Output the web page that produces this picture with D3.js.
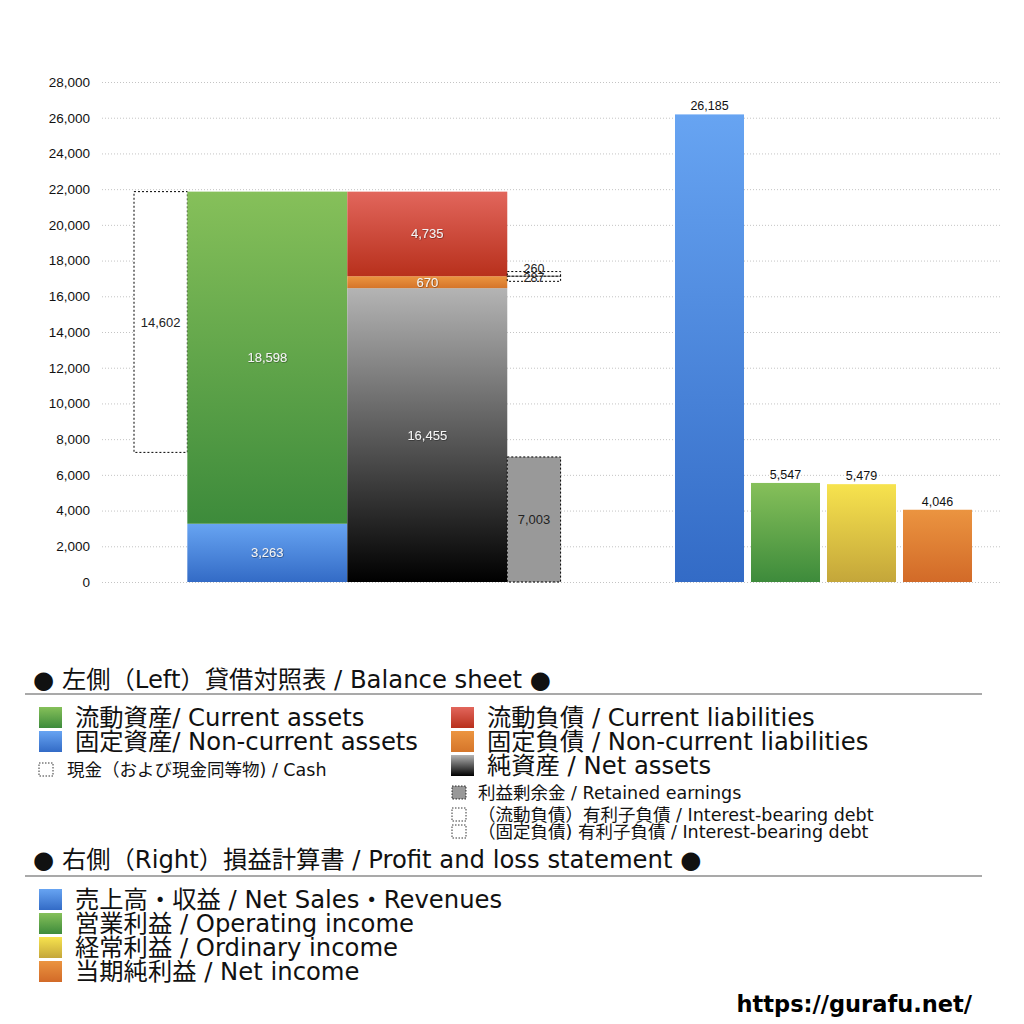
<!DOCTYPE html>
<html><head><meta charset="utf-8">
<script src="https://cdn.jsdelivr.net/npm/d3@7"></script>
<style>
body{margin:0;background:#fff;}
svg{display:block;}
</style></head>
<body>
<svg id="c" width="1024" height="1024"></svg>
<script>
// ---- data ----
const yTicks = [0,2000,4000,6000,8000,10000,12000,14000,16000,18000,20000,22000,24000,26000,28000];
const assetNames = ["固定資産","流動資産"];
const assetValues = [3263, 18598];
const liabNames = ["純資産","固定負債","流動負債"];
const liabValues = [16455, 670, 4735];
const cashValue = 14602;
const retainedValue = 7003;
const debtNames = ["(流動負債)有利子負債","(固定負債)有利子負債"];
const debtValues = [260, 287];
const plNames = ["売上高","営業利益","経常利益","当期純利益"];
const plValues = [26185, 5547, 5479, 4046];

const svg = d3.select("#c");
const defs = svg.append("defs");
function grad(id, c1, c2){
  const g = defs.append("linearGradient").attr("id", id).attr("x1",0).attr("y1",0).attr("x2",0).attr("y2",1);
  g.append("stop").attr("offset","0%").attr("stop-color",c1);
  g.append("stop").attr("offset","100%").attr("stop-color",c2);
}
grad("gGreen","#86c05a","#3d8b3b");
grad("gBlue","#67a4f2","#336bc6");
grad("gRed","#e2665c","#b8301c");
grad("gOrange","#ec9540","#d5752a");
grad("gNet","#b4b4b4","#000000");
grad("gYellow","#f7e34e","#c4a63a");
grad("gOrange2","#eb9440","#d26a28");
const sh = defs.append("filter").attr("id","ts").attr("x","-20%").attr("y","-20%").attr("width","140%").attr("height","140%");
sh.append("feDropShadow").attr("dx",0.5).attr("dy",0.5).attr("stdDeviation",0.5).attr("flood-color","#000").attr("flood-opacity",0.6);

const y = d3.scaleLinear().domain([0,28000]).range([582,82]);
const xu = d3.scaleLinear().domain([0,8]).range([134,560.6]);
const xb = d3.scaleBand().domain(plNames).range([671.5,975.5]).paddingInner(0.092).paddingOuter(0.046);

const numFont = "'Liberation Sans', Arial, sans-serif";
const jpFont = "'DejaVu Sans', 'Noto Sans CJK JP', sans-serif";
const fmt = d3.format(",");

// grid
const grid = svg.append("g");
grid.selectAll("line").data(yTicks).join("line")
  .attr("x1",102).attr("x2",1000)
  .attr("y1",d=>y(d)+0.5).attr("y2",d=>y(d)+0.5)
  .attr("stroke","#c4c4c4").attr("stroke-width",1).attr("stroke-dasharray","1,2");

// axis
const ax = svg.append("g").attr("transform","translate(96,0)")
  .call(d3.axisLeft(y).tickValues(yTicks).tickFormat(fmt).tickSize(0).tickPadding(6));
ax.select(".domain").remove();
ax.selectAll("text").attr("font-family",numFont).attr("font-size",13.5).attr("fill","#111");

// cash (dashed outline)
const totalAssets = d3.sum(assetValues);
svg.append("rect")
  .attr("x",xu(0)).attr("width",xu(1)-xu(0))
  .attr("y",y(totalAssets)).attr("height",y(totalAssets-cashValue)-y(totalAssets))
  .attr("fill","#fff").attr("stroke","#000").attr("stroke-width",1).attr("stroke-dasharray","2,2");
svg.append("text").attr("x",(xu(0)+xu(1))/2).attr("y",y(totalAssets-cashValue/2)).attr("dy","0.35em")
  .attr("text-anchor","middle").attr("font-family",numFont).attr("font-size",13).attr("fill","#222").text(fmt(cashValue));

// assets stack
const assetFills = ["url(#gBlue)","url(#gGreen)"];
let cum = 0;
const assetStack = assetValues.map((v,i)=>{const s={v,y0:cum,y1:cum+v,f:assetFills[i]}; cum+=v; return s;});
svg.append("g").selectAll("rect").data(assetStack).join("rect")
  .attr("x",xu(1)).attr("width",xu(4)-xu(1))
  .attr("y",d=>y(d.y1)).attr("height",d=>y(d.y0)-y(d.y1)).attr("fill",d=>d.f);
svg.append("g").selectAll("text").data(assetStack).join("text")
  .attr("x",(xu(1)+xu(4))/2).attr("y",d=>y((d.y0+d.y1)/2)).attr("dy","0.35em")
  .attr("text-anchor","middle").attr("font-family",numFont).attr("font-size",13).attr("fill","#f4f4f4")
  .attr("filter","url(#ts)").text(d=>fmt(d.v));

// liabilities stack
const liabFills = ["url(#gNet)","url(#gOrange)","url(#gRed)"];
cum = 0;
const liabStack = liabValues.map((v,i)=>{const s={v,y0:cum,y1:cum+v,f:liabFills[i]}; cum+=v; return s;});
svg.append("g").selectAll("rect").data(liabStack).join("rect")
  .attr("x",xu(4)).attr("width",xu(7)-xu(4))
  .attr("y",d=>y(d.y1)).attr("height",d=>y(d.y0)-y(d.y1)).attr("fill",d=>d.f);
svg.append("g").selectAll("text").data(liabStack).join("text")
  .attr("x",(xu(4)+xu(7))/2).attr("y",d=>y((d.y0+d.y1)/2)).attr("dy","0.35em")
  .attr("text-anchor","middle").attr("font-family",numFont).attr("font-size",13).attr("fill","#f4f4f4")
  .attr("filter","url(#ts)").text(d=>fmt(d.v));

// retained earnings
svg.append("rect").attr("x",xu(7)).attr("width",xu(8)-xu(7))
  .attr("y",y(retainedValue)).attr("height",y(0)-y(retainedValue))
  .attr("fill","#999").attr("stroke","#000").attr("stroke-dasharray","2,2");
svg.append("text").attr("x",(xu(7)+xu(8))/2).attr("y",y(retainedValue/2)).attr("dy","0.35em")
  .attr("text-anchor","middle").attr("font-family",numFont).attr("font-size",13).attr("fill","#222").text(fmt(retainedValue));

// interest-bearing debt boxes at the current / non-current liabilities boundary
const boundary = liabStack[1].y1;
const debtBoxes = [
  {v:debtValues[0], y0:boundary, y1:boundary+debtValues[0]},
  {v:debtValues[1], y0:boundary-debtValues[1], y1:boundary}
];
svg.append("g").selectAll("rect").data(debtBoxes).join("rect")
  .attr("x",xu(7)).attr("width",xu(8)-xu(7))
  .attr("y",d=>y(d.y1)).attr("height",d=>y(d.y0)-y(d.y1))
  .attr("fill","none").attr("stroke","#000").attr("stroke-dasharray","2,2");
svg.append("g").selectAll("text").data(debtBoxes).join("text")
  .attr("x",(xu(7)+xu(8))/2).attr("y",(d,i)=>y(d.y1)-(i===0?0:-4))
  .attr("dy","0.15em")
  .attr("text-anchor","middle").attr("font-family",numFont).attr("font-size",12.5).attr("fill","#222").text(d=>fmt(d.v));

// P&L bars
const plFills = ["url(#gBlue)","url(#gGreen)","url(#gYellow)","url(#gOrange2)"];
svg.append("g").selectAll("rect").data(plValues).join("rect")
  .attr("x",(d,i)=>xb(plNames[i])).attr("width",xb.bandwidth())
  .attr("y",d=>y(d)).attr("height",d=>y(0)-y(d)).attr("fill",(d,i)=>plFills[i]);
svg.append("g").selectAll("text").data(plValues).join("text")
  .attr("x",(d,i)=>xb(plNames[i])+xb.bandwidth()/2).attr("y",d=>y(d)-4)
  .attr("text-anchor","middle").attr("font-family",numFont).attr("font-size",12.5).attr("fill","#111").text(d=>fmt(d));

// ---- legend ----
const L = svg.append("g").attr("font-family",jpFont).attr("fill","#111");
function header(txt, yb, ly){
  L.append("text").attr("x",33).attr("y",yb).attr("font-size",24.3).text(txt);
  L.append("line").attr("x1",25).attr("x2",982).attr("y1",ly).attr("y2",ly).attr("stroke","#555").attr("stroke-width",1.2);
}
function bigItem(x, yb, fill, txt){
  L.append("rect").attr("x",x).attr("y",yb-19).attr("width",23).attr("height",21).attr("fill",fill);
  L.append("text").attr("x",x+36).attr("y",yb).attr("font-size",24.3).text(txt);
}
function smallItem(x, yb, fill, dashed, txt, tx){
  L.append("rect").attr("x",x).attr("y",yb-13).attr("width",14).attr("height",13)
    .attr("fill",fill).attr("stroke",dashed?"#000":"none").attr("stroke-dasharray","1.5,1.5").attr("stroke-width",0.8);
  L.append("text").attr("x",tx).attr("y",yb).attr("font-size",17.5).text(txt);
}
header("● 左側（Left）貸借対照表 / Balance sheet ●", 688, 694);
bigItem(39, 726, "url(#gGreen)", "流動資産/ Current assets");
bigItem(39, 750, "url(#gBlue)", "固定資産/ Non-current assets");
smallItem(39, 776, "#fff", true, "現金（および現金同等物) / Cash", 67);
bigItem(451, 726, "url(#gRed)", "流動負債 /  Current liabilities");
bigItem(451, 750, "url(#gOrange)", "固定負債 / Non-current liabilities");
bigItem(451, 774, "url(#gNet)", "純資産 / Net assets");
smallItem(452, 799, "#999", true, "利益剰余金 / Retained earnings", 478);
smallItem(452, 821, "#fff", true, "（流動負債）有利子負債 / Interest-bearing debt", 478);
smallItem(452, 838, "#fff", true, "（固定負債) 有利子負債 / Interest-bearing debt", 478);
header("● 右側（Right）損益計算書 / Profit and loss statement ●", 868, 876);
bigItem(39, 908, "url(#gBlue)", "売上高・収益 / Net Sales・Revenues");
bigItem(39, 932, "url(#gGreen)", "営業利益 / Operating income");
bigItem(39, 956, "url(#gYellow)", "経常利益 / Ordinary income");
bigItem(39, 980, "url(#gOrange2)", "当期純利益 / Net income");

svg.append("text").attr("x",972).attr("y",1012).attr("text-anchor","end")
  .attr("font-family","'DejaVu Sans', sans-serif").attr("font-weight","bold").attr("font-size",22.5).attr("fill","#000")
  .text("https://gurafu.net/");
</script>
</body></html>
